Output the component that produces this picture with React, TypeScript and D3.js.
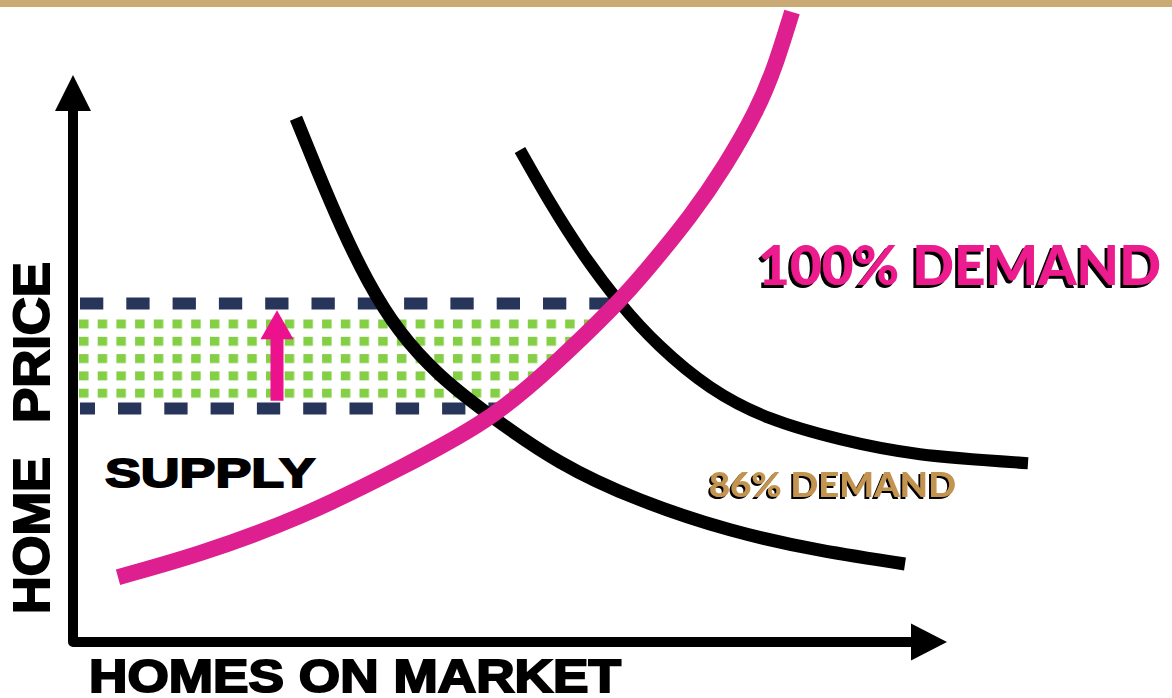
import React from 'react';
import * as d3 from 'd3';

const W = 1172;
const H = 698;

// Supply curve (homes on market vs price), abstract units
const supplyQ = [4.5, 12.7, 22.7, 32.7, 41.2, 47.7, 53.7, 57.7, 61.7, 65.2, 68.2, 70.2, 71.9];
const supplyP = [10.8, 14.8, 21.0, 29.0, 37.0, 45.7, 55.3, 62.7, 71.0, 79.5, 88.3, 96.2, 105];

// 86% demand curve
const demand86Q = [22.3, 24.5, 26.9, 29.5, 32.7, 36.7, 41.7, 48.7, 56.7, 65.7, 74.7, 83.2];
const demand86P = [87.3, 78.3, 69.0, 60.2, 51.8, 44.5, 37.8, 30.0, 23.7, 18.7, 15.3, 13.0];

// 100% demand curve
const demand100Q = [44.7, 47.7, 51.0, 54.7, 58.7, 63.7, 69.7, 76.7, 84.7, 95.5];
const demand100P = [82.0, 73.3, 64.7, 56.5, 49.3, 42.5, 37.3, 33.8, 31.3, 29.8];

// price levels (dashed) and the price-rise arrow
const priceLevels = [56.4, 38.9];
const arrowQ = 20.4;
const arrowFromP = 40.2;
const arrowToP = 55.3;
const axisMaxQ = 87.4;
const axisMaxP = 94.5;

const yTitleWords = ['HOME', 'PRICE'];
const xTitle = 'HOMES ON MARKET';
const supplyLabel = 'SUPPLY';
const demand100Label = '100% DEMAND';
const demand86Label = '86% DEMAND';

type Pt = { q: number; p: number };
const zip = (qs: number[], ps: number[]): Pt[] => qs.map((q, i) => ({ q, p: ps[i] }));

const heavy = "'Liberation Sans', Arial, sans-serif";

export default function App() {
  const x = d3.scaleLinear().domain([0, 100]).range([73, 1073]);
  const y = d3.scaleLinear().domain([0, 105]).range([642, 12]);

  const line = d3
    .line<Pt>()
    .x((d) => x(d.q))
    .y((d) => y(d.p))
    .curve(d3.curveNatural);

  const supply = zip(supplyQ, supplyP);
  const d86 = zip(demand86Q, demand86P);
  const d100 = zip(demand100Q, demand100P);

  const supplyAt = (p: number) => {
    for (let i = 1; i < supply.length; i++) {
      const a = supply[i - 1];
      const b = supply[i];
      if (p >= a.p && p <= b.p) return a.q + ((p - a.p) / (b.p - a.p)) * (b.q - a.q);
    }
    return supply[supply.length - 1].q;
  };

  const supplyPath = line(supply) || '';
  const first = supply[0];
  const last = supply[supply.length - 1];
  const clipD = `${supplyPath}L${x(0)},${y(last.p)}L${x(0)},${y(first.p)}Z`;

  const x0 = x(0);
  const y0 = y(0);
  const xEnd = x(axisMaxQ);
  const yEnd = y(axisMaxP);

  const topY = y(priceLevels[0]);
  const botY = y(priceLevels[1]);
  const ax = x(arrowQ);

  return (
    <svg
      width={W}
      height={H}
      viewBox={`0 0 ${W} ${H}`}
      style={{ position: 'absolute', left: 0, top: 0, background: '#ffffff' }}
    >
      <defs>
        <pattern id="dots" patternUnits="userSpaceOnUse" x={79} y={319.5} width={18.7} height={17.3}>
          <rect x={0} y={0} width={9.5} height={9} fill="#84cf45" />
        </pattern>
        <clipPath id="leftOfSupply">
          <path d={clipD} />
        </clipPath>
        <filter id="shadowBig" x="-5%" y="-20%" width="110%" height="140%">
          <feOffset in="SourceAlpha" dx={-3} dy={3} result="off" />
          <feFlood floodColor="#000" />
          <feComposite in2="off" operator="in" result="sh" />
          <feMerge>
            <feMergeNode in="sh" />
            <feMergeNode in="SourceGraphic" />
          </feMerge>
        </filter>
        <filter id="shadowSmall" x="-5%" y="-20%" width="110%" height="140%">
          <feOffset in="SourceAlpha" dx={-2} dy={2} result="off" />
          <feFlood floodColor="#000" />
          <feComposite in2="off" operator="in" result="sh" />
          <feMerge>
            <feMergeNode in="sh" />
            <feMergeNode in="SourceGraphic" />
          </feMerge>
        </filter>
      </defs>

      <rect x={0} y={0} width={W} height={7} fill="#c9a974" />

      {/* dotted band */}
      <rect
        x={79}
        y={topY + 15}
        width={600}
        height={botY - topY - 21}
        fill="url(#dots)"
        clipPath="url(#leftOfSupply)"
      />

      {/* dashed price levels */}
      <line
        x1={80}
        x2={x(supplyAt(priceLevels[0]))}
        y1={topY}
        y2={topY}
        stroke="#28355a"
        strokeWidth={12}
        strokeDasharray="23.3 23"
      />
      <line
        x1={80}
        x2={x(supplyAt(priceLevels[1]))}
        y1={botY}
        y2={botY}
        stroke="#28355a"
        strokeWidth={12}
        strokeDasharray="23.3 23"
        strokeDashoffset={8.3}
      />

      {/* pink price rise arrow */}
      <line x1={ax} x2={ax} y1={y(arrowFromP)} y2={y(arrowToP) + 26} stroke="#ec118c" strokeWidth={13} />
      <path
        d={`M${ax},${y(arrowToP)}L${ax + 16.5},${y(arrowToP) + 29}L${ax - 16.5},${y(arrowToP) + 29}Z`}
        fill="#ec118c"
      />

      {/* axes */}
      <path
        d={`M${x0},${yEnd + 34}L${x0},${y0}L${xEnd - 34},${y0}`}
        fill="none"
        stroke="#000"
        strokeWidth={10}
        strokeLinejoin="round"
      />
      <path d={`M${x0},${yEnd}L${x0 + 18},${yEnd + 36}L${x0 - 18},${yEnd + 36}Z`} fill="#000" />
      <path d={`M${xEnd},${y0}L${xEnd - 36},${y0 - 18.5}L${xEnd - 36},${y0 + 18.5}Z`} fill="#000" />

      {/* demand curves */}
      <path d={line(d86) || ''} fill="none" stroke="#000" strokeWidth={13} />
      <path d={line(d100) || ''} fill="none" stroke="#000" strokeWidth={12} />

      {/* supply curve */}
      <path d={supplyPath} fill="none" stroke="#de1f8f" strokeWidth={16} />

      {/* labels */}
      <text
        x={105}
        y={487}
        fontFamily={heavy}
        fontWeight={700}
        fontSize={41}
        textLength={210}
        lengthAdjust="spacingAndGlyphs"
        fill="#000"
        stroke="#000"
        strokeWidth={1.8}
      >
        {supplyLabel}
      </text>

      <text
        x={89}
        y={692}
        fontFamily={heavy}
        fontWeight={700}
        fontSize={47}
        textLength={532}
        lengthAdjust="spacingAndGlyphs"
        fill="#000"
        stroke="#000"
        strokeWidth={2}
      >
        {xTitle}
      </text>

      <text
        transform="translate(49,614) rotate(-90)"
        fontFamily={heavy}
        fontWeight={700}
        fontSize={50}
        textLength={157}
        lengthAdjust="spacingAndGlyphs"
        fill="#000"
        stroke="#000"
        strokeWidth={2}
      >
        {yTitleWords[0]}
      </text>
      <text
        transform="translate(49,423) rotate(-90)"
        fontFamily={heavy}
        fontWeight={700}
        fontSize={50}
        textLength={161}
        lengthAdjust="spacingAndGlyphs"
        fill="#000"
        stroke="#000"
        strokeWidth={2}
      >
        {yTitleWords[1]}
      </text>

      <text
        x={758}
        y={285}
        fontFamily="Lato, sans-serif"
        fontWeight={900}
        fontSize={56}
        textLength={403}
        lengthAdjust="spacingAndGlyphs"
        fill="#ec1a8e"
        filter="url(#shadowBig)"
      >
        {demand100Label}
      </text>

      <text
        x={709}
        y={497}
        fontFamily="Lato, sans-serif"
        fontWeight={900}
        fontSize={34}
        textLength={247}
        lengthAdjust="spacingAndGlyphs"
        fill="#c39450"
        filter="url(#shadowSmall)"
      >
        {demand86Label}
      </text>
    </svg>
  );
}
